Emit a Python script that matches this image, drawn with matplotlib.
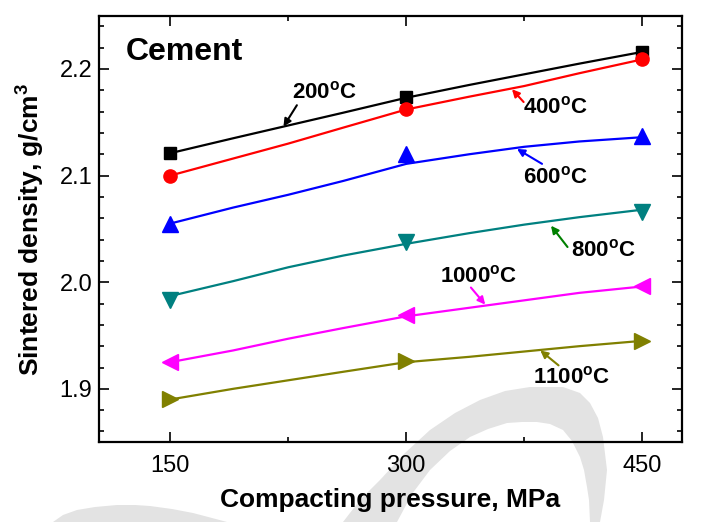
import numpy as np
import matplotlib
matplotlib.use("Agg")
import matplotlib.pyplot as plt
from matplotlib.patches import Polygon
from matplotlib.ticker import MultipleLocator

plt.rcParams['font.family'] = ['Liberation Sans', 'DejaVu Sans']
plt.rcParams['mathtext.fontset'] = 'custom'
plt.rcParams['mathtext.rm'] = 'Liberation Sans'
plt.rcParams['mathtext.bf'] = 'Liberation Sans:bold'

# measured points
pressure = [150, 300, 450]
d200 = [2.121, 2.174, 2.216]
d400 = [2.100, 2.162, 2.209]
d600 = [2.055, 2.120, 2.137]
d800 = [1.983, 2.038, 2.066]
d1000 = [1.925, 1.969, 1.996]
d1100 = [1.890, 1.926, 1.945]

# fitted lines
p_fit = [150, 190, 225, 260, 300, 340, 375, 410, 450]
f200 = [2.121, 2.135, 2.147, 2.159, 2.173, 2.185, 2.195, 2.205, 2.216]
f400 = [2.100, 2.116, 2.130, 2.145, 2.162, 2.174, 2.184, 2.196, 2.209]
f600 = [2.055, 2.070, 2.082, 2.095, 2.111, 2.120, 2.127, 2.132, 2.136]
f800 = [1.987, 2.001, 2.014, 2.025, 2.036, 2.046, 2.054, 2.061, 2.068]
f1000 = [1.925, 1.936, 1.947, 1.957, 1.968, 1.976, 1.983, 1.990, 1.996]
f1100 = [1.890, 1.900, 1.908, 1.916, 1.925, 1.930, 1.935, 1.940, 1.945]

labels = ['200', '400', '600', '800', '1000', '1100']
colors = ['black', 'red', 'blue', '#008080', 'magenta', '#808000']
arrow_colors = ['black', 'red', 'blue', 'green', 'magenta', '#808000']
markers = ['s', 'o', '^', 'v', '<', '>']
msizes = [8.5, 9.5, 11.5, 11.5, 11.5, 11.5]

# label positions (text) and arrow tail/head
txt_pos = [(248, 2.172), (395, 2.158), (395, 2.093), (425, 2.024), (346, 2.000), (405, 1.905)]
arr_tail = [(230.5, 2.166), (374.6, 2.169), (386.3, 2.111), (402.5, 2.033), (341.1, 1.995), (396.8, 1.922)]
arr_head = [(222, 2.146), (367.2, 2.181), (370.4, 2.125), (392, 2.053), (350.2, 1.979), (385.2, 1.936)]

fig = plt.figure(figsize=(7.1, 5.22), dpi=100)
ax = fig.add_axes([0.140, 0.153, 0.820, 0.817])
ax.set_facecolor('none')

# faint watermark swooshes behind the plot (pixel outline)
W, H = 710.0, 522.0
swoosh1 = [(343, 522), (360, 500), (380, 480), (405, 453), (430, 430), (455, 413), (480, 400),
           (505, 391), (530, 387), (563, 387), (580, 393), (590, 403), (598, 418), (603, 437),
           (607, 470), (604, 500), (600, 522), (590, 522), (589, 500), (587, 487), (584, 470),
           (580, 457), (572, 441), (563, 430), (550, 424), (537, 422), (522, 422), (507, 423),
           (488, 429), (470, 437), (450, 451), (430, 470), (412, 494), (397, 522)]
swoosh2 = [(53, 522), (63, 515), (77, 510), (95, 507), (117, 505), (135, 505), (150, 506),
           (172, 509), (193, 513), (212, 518), (227, 522)]
for pts in (swoosh1, swoosh2):
    poly = Polygon([(x / W, 1 - y / H) for x, y in pts], closed=True,
                   transform=fig.transFigure, facecolor='#e3e3e3', edgecolor='none', zorder=-5)
    fig.patches.append(poly)

fits = [f200, f400, f600, f800, f1000, f1100]
data = [d200, d400, d600, d800, d1000, d1100]
for i in range(6):
    ax.plot(p_fit, fits[i], color=colors[i], lw=1.6, zorder=3)
    ax.plot(pressure, data[i], linestyle='none', marker=markers[i], ms=msizes[i],
            color=colors[i], zorder=4)
    ax.text(txt_pos[i][0], txt_pos[i][1], labels[i] + r'$^{\mathbf{o}}$C', fontsize=16,
            fontweight='bold', ha='center', va='baseline')
    ax.annotate('', xy=arr_head[i], xytext=arr_tail[i],
                arrowprops=dict(arrowstyle='-|>', color=arrow_colors[i], lw=1.5,
                                mutation_scale=11, shrinkA=0, shrinkB=0))

ax.text(0.045, 0.915, 'Cement', transform=ax.transAxes, fontsize=23, fontweight='bold',
        ha='left', va='center')

ax.set_xlim(105, 475)
ax.set_ylim(1.85, 2.25)
ax.set_xticks([150, 300, 450])
ax.set_yticks([1.9, 2.0, 2.1, 2.2])
ax.xaxis.set_minor_locator(MultipleLocator(75))
ax.yaxis.set_minor_locator(MultipleLocator(0.02))
ax.tick_params(which='both', direction='in', top=True, right=True, width=1.2, labelsize=17)
ax.tick_params(which='major', length=7)
ax.tick_params(which='minor', length=3.6)
ax.tick_params(axis='x', pad=9)
ax.tick_params(axis='y', pad=5)
for s in ax.spines.values():
    s.set_linewidth(1.6)

ax.set_xlabel('Compacting pressure, MPa', fontsize=19, fontweight='bold', labelpad=8)
ax.set_ylabel(r'Sintered density, g/cm$^{\mathbf{3}}$', fontsize=19, fontweight='bold',
              labelpad=10)

fig.savefig('out.png', dpi=100)
